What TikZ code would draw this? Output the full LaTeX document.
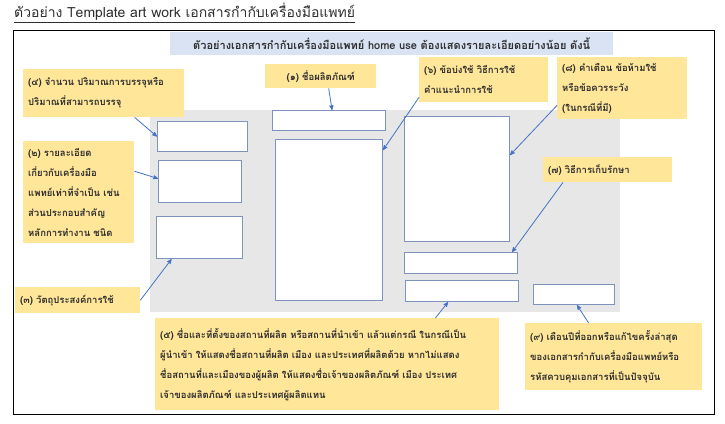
\documentclass[tikz,border=0pt]{standalone}
\usepackage{fontspec}
\newfontfamily\thaifont[Script=Thai]{Loma}
\usetikzlibrary{arrows}
\definecolor{noteyellow}{HTML}{FFE699}
\definecolor{bannerblue}{HTML}{DAE3F3}
\definecolor{panelgray}{HTML}{E7E7E7}
\definecolor{slotblue}{HTML}{7F93BF}
\definecolor{linkblue}{HTML}{4472C4}
\definecolor{inkgray}{HTML}{2E2E2E}
\tikzset{
>=stealth', % small pointed heads on the connectors
note/.style={fill=noteyellow, anchor=north west, inner xsep=5pt, inner ysep=3pt, align=left, text=inkgray, font=\thaifont\bfseries\fontsize{9.5}{20}\selectfont}, % the yellow labels
slot/.style={draw=slotblue, fill=white, line width=1.1pt, anchor=north west, inner sep=0pt}, % the empty boxes of the art work
pointer/.style={->, draw=linkblue, line width=0.8pt}, % from a label to its box
}

\begin{document}
\begin{tikzpicture}[x=1pt, y=-1pt]
\useasboundingbox (0,0) rectangle (725,423);
\node[anchor=north west, inner sep=0pt, text=inkgray, font=\thaifont\fontsize{14}{16}\selectfont] (title) at (14,3) {\underline{ตัวอย่าง Template art work เอกสารกำกับเครื่องมือแพทย์}};
\draw[line width=0.8pt] (13,30) rectangle (714,414);
\node[fill=bannerblue, anchor=north west, minimum width=443pt, minimum height=23pt, inner sep=0pt, text=inkgray, font=\thaifont\bfseries\fontsize{11}{13}\selectfont] (banner) at (170,32) {ตัวอย่างเอกสารกำกับเครื่องมือแพทย์ home use ต้องแสดงรายละเอียดอย่างน้อย ดังนี้};
\fill[panelgray] (150,110) rectangle (620,312);

% boxes of the art work
\node[slot, minimum width=90pt, minimum height=30pt] (b4) at (157,121) {};
\node[slot, minimum width=83pt, minimum height=42pt] (b2) at (158,160) {};
\node[slot, minimum width=86pt, minimum height=42pt] (b3) at (156,216) {};
\node[slot, minimum width=113pt, minimum height=20pt] (b1) at (272,110) {};
\node[slot, minimum width=107pt, minimum height=161pt] (b6) at (275,139) {};
\node[slot, minimum width=105pt, minimum height=125pt] (b8) at (404,116) {};
\node[slot, minimum width=113pt, minimum height=21pt] (b7) at (404,252) {};
\node[slot, minimum width=113pt, minimum height=21pt] (b5) at (405,280) {};
\node[slot, minimum width=81pt, minimum height=20pt] (b9) at (533,284) {};

% labels
\node[note, text width=151pt, minimum height=48pt] (l4) at (23,69) {(๔) จำนวน ปริมาณการบรรจุหรือ\\ปริมาณที่สามารถบรรจุ};
\node[note, text width=101pt, minimum height=102pt] (l2) at (23,141) {(๒) รายละเอียด\\เกี่ยวกับเครื่องมือ\\แพทย์เท่าที่จำเป็น เช่น\\ส่วนประกอบสำคัญ\\หลักการทำงาน ชนิด};
\node[note, text width=115pt, minimum height=26pt] (l3) at (15,287) {(๓) วัตถุประสงค์การใช้};
\node[note, text width=101pt, minimum height=24pt, align=center] (l1) at (265,64) {(๑) ชื่อผลิตภัณฑ์};
\node[note, text width=119pt, minimum height=45pt] (l6) at (419,57) {(๖) ข้อบ่งใช้ วิธีการใช้\\คำแนะนำการใช้};
\node[note, text width=120pt, minimum height=62pt] (l8) at (557,57) {(๘) คำเตือน ข้อห้ามใช้\\หรือข้อควรระวัง\\(ในกรณีที่มี)};
\node[note, text width=119pt, minimum height=25pt] (l7) at (543,157) {(๗) วิธีการเก็บรักษา};
\node[note, text width=334pt, minimum height=92pt] (l5) at (155,318) {(๕) ชื่อและที่ตั้งของสถานที่ผลิต หรือสถานที่นำเข้า แล้วแต่กรณี ในกรณีเป็น\\ผู้นำเข้า ให้แสดงชื่อสถานที่ผลิต เมือง และประเทศที่ผลิตด้วย หากไม่แสดง\\ชื่อสถานที่และเมืองของผู้ผลิต ให้แสดงชื่อเจ้าของผลิตภัณฑ์ เมือง ประเทศ\\เจ้าของผลิตภัณฑ์ และประเทศผู้ผลิตแทน};
\node[note, text width=167pt, minimum height=67pt] (l9) at (525,323) {(๙) เดือนปีที่ออกหรือแก้ไขครั้งล่าสุด\\ของเอกสารกำกับเครื่องมือแพทย์หรือ\\รหัสควบคุมเอกสารที่เป็นปัจจุบัน};

% connectors
\draw[pointer] ([xshift=31pt]l4.south) -- (b4.west);
\draw[pointer] ([yshift=21pt]l2.east) -- ([yshift=3pt]b2.west);
\draw[pointer] (l3.east) -- ([xshift=-28pt]b3.south);
\draw[pointer] ([xshift=8pt]l1.south) -- ([xshift=3pt]b1.north);
\draw[pointer] ([yshift=5pt]l6.south west) -- ([yshift=-11pt]b6.north east);
\draw[pointer] ([yshift=14pt]l8.south west) -- ([yshift=-39pt]b8.north east);
\draw[pointer] ([xshift=20pt]l7.south west) -- ([xshift=-6pt]b7.north east);
\draw[pointer] ([xshift=-64pt]l5.north east) -- ([xshift=-14pt]b5.south);
\draw[pointer] ([xshift=-25pt]l9.north) -- ([xshift=3pt]b9.south);
\end{tikzpicture}
\end{document}
